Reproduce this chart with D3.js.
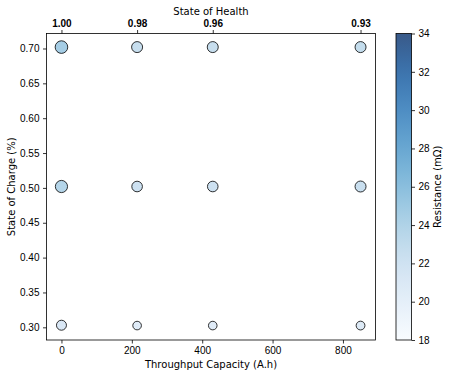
<!DOCTYPE html>
<html>
<head>
<meta charset="utf-8">
<script src="https://cdn.jsdelivr.net/npm/d3@7"></script>
<style>
  body { margin: 0; background: #fff; }
  svg { font-family: "DejaVu Sans", sans-serif; }
</style>
</head>
<body>
<svg width="449" height="375"></svg>
<script>
// Data
const throughput = [0, 215, 430, 850];           // A.h
const sohTicks = ["1.00", "0.98", "0.96", "0.93"];
const socLevels = [0.702, 0.502, 0.302];
// resistance (mOhm) per SoC row, per throughput column
const resistance = [
    [24.6, 22.6, 22.6, 22.8],
    [23.8, 22.2, 22.2, 22.5],
    [21.2, 20.6, 20.6, 20.8]
];
// marker diameter in px per SoC row, per throughput column
const markerSize = [
    [12.6, 11, 11, 11],
    [12.2, 10.6, 10.6, 11],
    [10, 8.6, 8.6, 8.8]
];
const socY = [0.303, 0.3025, 0.3025, 0.3025];
const colorTicks = [18, 20, 22, 24, 26, 28, 30, 32, 34];
const yTicks = [0.30, 0.35, 0.40, 0.45, 0.50, 0.55, 0.60, 0.65, 0.70];
const xTicks = [0, 200, 400, 600, 800];

const points = [];
socLevels.forEach((s, i) => {
    throughput.forEach((t, j) => {
        points.push({
            x: t,
            y: i === 2 ? socY[j] : s,
            r: resistance[i][j],
            size: markerSize[i][j]
        });
    });
});

const margin = { top: 33.5, left: 46.5 },
      width = 329,
      height = 306.5;

const svg = d3.select("svg");
const g = svg.append("g").attr("transform", `translate(${margin.left},${margin.top})`);

const x = d3.scaleLinear().domain([-42.5, 892.5]).range([0, width]);
const y = d3.scaleLinear().domain([0.2818, 0.7215]).range([height, 0]);
const color = d3.scaleSequential(d3.interpolateBlues).domain([18, 34]);

// Axes
const styleAxis = sel => {
    sel.select(".domain").remove();
    sel.selectAll("line").attr("stroke", "#000").attr("stroke-width", 0.8);
    sel.selectAll("text").attr("fill", "#000").style("font-size", "10px");
};

g.append("g")
    .attr("transform", `translate(0,${height})`)
    .call(d3.axisBottom(x).tickValues(xTicks).tickSize(3.5).tickPadding(3.5))
    .call(styleAxis);

g.append("g")
    .call(d3.axisLeft(y).tickValues(yTicks).tickFormat(d3.format(".2f")).tickSize(3.5).tickPadding(3.5))
    .call(styleAxis);

g.append("g")
    .call(d3.axisTop(x).tickValues(throughput).tickFormat((d, i) => sohTicks[i]).tickSize(3.5).tickPadding(3.5))
    .call(styleAxis)
    .selectAll("text").style("font-weight", "bold");

// Frame
g.append("rect")
    .attr("width", width)
    .attr("height", height)
    .attr("fill", "none")
    .attr("stroke", "#000")
    .attr("stroke-width", 0.8);

// Points
g.selectAll(".pt")
    .data(points)
    .enter()
    .append("circle")
    .attr("class", "pt")
    .attr("cx", d => x(d.x))
    .attr("cy", d => y(d.y))
    .attr("r", d => d.size / 2)
    .attr("fill", d => color(d.r))
    .attr("fill-opacity", 0.8)
    .attr("stroke", "#000")
    .attr("stroke-opacity", 0.8)
    .attr("stroke-width", 1);

// Axis labels
svg.append("text")
    .attr("x", margin.left + width / 2)
    .attr("y", 368)
    .attr("text-anchor", "middle")
    .style("font-size", "10px")
    .text("Throughput Capacity (A.h)");

svg.append("text")
    .attr("transform", "rotate(-90)")
    .attr("x", -(margin.top + height / 2))
    .attr("y", 15)
    .attr("text-anchor", "middle")
    .style("font-size", "10px")
    .text("State of Charge (%)");

svg.append("text")
    .attr("x", margin.left + width / 2)
    .attr("y", 15)
    .attr("text-anchor", "middle")
    .style("font-size", "10px")
    .text("State of Health");

// Colorbar
const cbX = 396, cbW = 15.5;
const cy = d3.scaleLinear().domain([18, 34]).range([margin.top + height, margin.top]);
const defs = svg.append("defs");
const grad = defs.append("linearGradient")
    .attr("id", "cbgrad")
    .attr("x1", 0).attr("y1", 1).attr("x2", 0).attr("y2", 0);
d3.range(0, 1.0001, 0.05).forEach(t => {
    grad.append("stop")
        .attr("offset", t)
        .attr("stop-color", d3.interpolateBlues(t))
        .attr("stop-opacity", 0.8);
});
svg.append("rect")
    .attr("x", cbX)
    .attr("y", margin.top)
    .attr("width", cbW)
    .attr("height", height)
    .attr("fill", "url(#cbgrad)")
    .attr("stroke", "#000")
    .attr("stroke-width", 0.8);

svg.append("g")
    .attr("transform", `translate(${cbX + cbW},0)`)
    .call(d3.axisRight(cy).tickValues(colorTicks).tickSize(3.5).tickPadding(3.5))
    .call(styleAxis);

svg.append("text")
    .attr("transform", "rotate(-90)")
    .attr("x", -(margin.top + height / 2))
    .attr("y", 441)
    .attr("text-anchor", "middle")
    .style("font-size", "10px")
    .text("Resistance (mΩ)");
</script>
</body>
</html>
